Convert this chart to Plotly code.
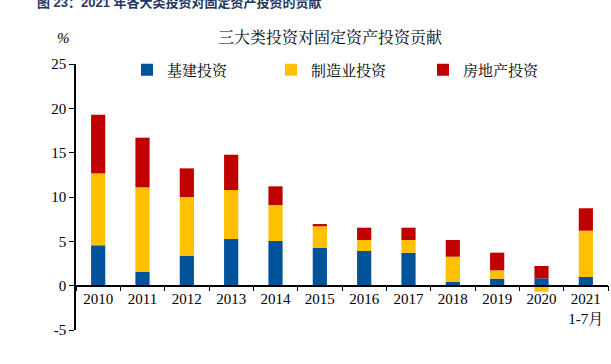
import plotly.graph_objects as go

categories = ["2010", "2011", "2012", "2013", "2014", "2015", "2016", "2017",
              "2018", "2019", "2020", "2021<br>1-7月"]
infra = [4.55, 1.54, 3.38, 5.26, 5.04, 4.29, 3.91, 3.72, 0.42, 0.79, 0.83, 0.98]
manufacturing = [8.12, 9.55, 6.62, 5.53, 4.06, 2.40, 1.24, 1.43, 2.85, 0.94, -0.68, 5.22]
real_estate = [6.61, 5.60, 3.23, 3.98, 2.10, 0.26, 1.39, 1.39, 1.88, 1.99, 1.39, 2.53]
y_ticks = [-5, 0, 5, 10, 15, 20, 25]
y_ticktext = ["-5", "0", "5", "10", "15", "20", "25"]

W, H = 611, 364
ml, mr, mt, mb = 76, 3, 64, 34
pw, ph = W - ml - mr, H - mt - mb
serif = "Liberation Serif, Noto Serif CJK SC, Noto Sans CJK SC, serif"

series = [("基建投资", infra, "#00529B", "legend", 127),
          ("制造业投资", manufacturing, "#FFC000", "legend2", 271),
          ("房地产投资", real_estate, "#C00000", "legend3", 423)]

fig = go.Figure()
for name, vals, col, lg, _ in series:
    fig.add_trace(go.Bar(x=categories, y=vals, name=name, marker_color=col,
                         marker_line_width=0, width=0.32, legend=lg))

zero_pos = (0 - (-5)) / (25 - (-5))

legend_common = dict(orientation="h", xanchor="left", y=1 - (70 - mt) / ph, yanchor="middle",
                     font=dict(size=15, family=serif), itemwidth=30,
                     bgcolor="rgba(0,0,0,0)")
legends = {}
for name, vals, col, lg, px in series:
    legends[lg] = dict(x=(px - ml) / pw, **legend_common)

fig.update_layout(
    width=W, height=H, barmode="relative",
    margin=dict(l=ml, r=mr, t=mt, b=mb, autoexpand=False),
    plot_bgcolor="white", paper_bgcolor="white",
    font=dict(family=serif, size=15, color="black"),
    showlegend=True,
    xaxis=dict(anchor="free", position=zero_pos, showline=True, linecolor="black",
               linewidth=1.5, ticks="outside", tickson="boundaries", ticklen=5,
               tickcolor="black", showgrid=False, automargin=False,
               tickfont=dict(size=15, family=serif)),
    yaxis=dict(range=[-5, 25], tickvals=y_ticks, ticktext=y_ticktext, showline=True,
               linecolor="black", linewidth=1.5, ticks="outside", ticklen=5,
               tickcolor="black", showgrid=False, zeroline=False, automargin=False,
               tickfont=dict(size=15, family=serif)),
    **legends,
)

fig.add_annotation(text="三大类投资对固定资产投资贡献", xref="paper", yref="paper",
                   x=(330 - ml) / pw, y=1 + (mt - 38) / ph,
                   showarrow=False, font=dict(size=16, family=serif), yanchor="middle")
fig.add_annotation(text="<i>%</i>", xref="paper", yref="paper",
                   x=(63 - ml) / pw, xanchor="center", y=1 + (mt - 38) / ph,
                   showarrow=False, font=dict(size=15, family=serif), yanchor="middle")
fig.add_annotation(text="<b>图 23：2021 年各大类投资对固定资产投资的贡献</b>", xref="paper", yref="paper",
                   x=(35 - ml) / pw, xanchor="left",
                   y=1 + (mt - 2) / ph, yanchor="middle",
                   showarrow=False,
                   font=dict(size=13, family="Liberation Sans, Noto Sans CJK SC, sans-serif", color="#1F3864"))

fig.write_html("out.html", config={"displayModeBar": False},
               post_script="document.body.style.margin='0';")
